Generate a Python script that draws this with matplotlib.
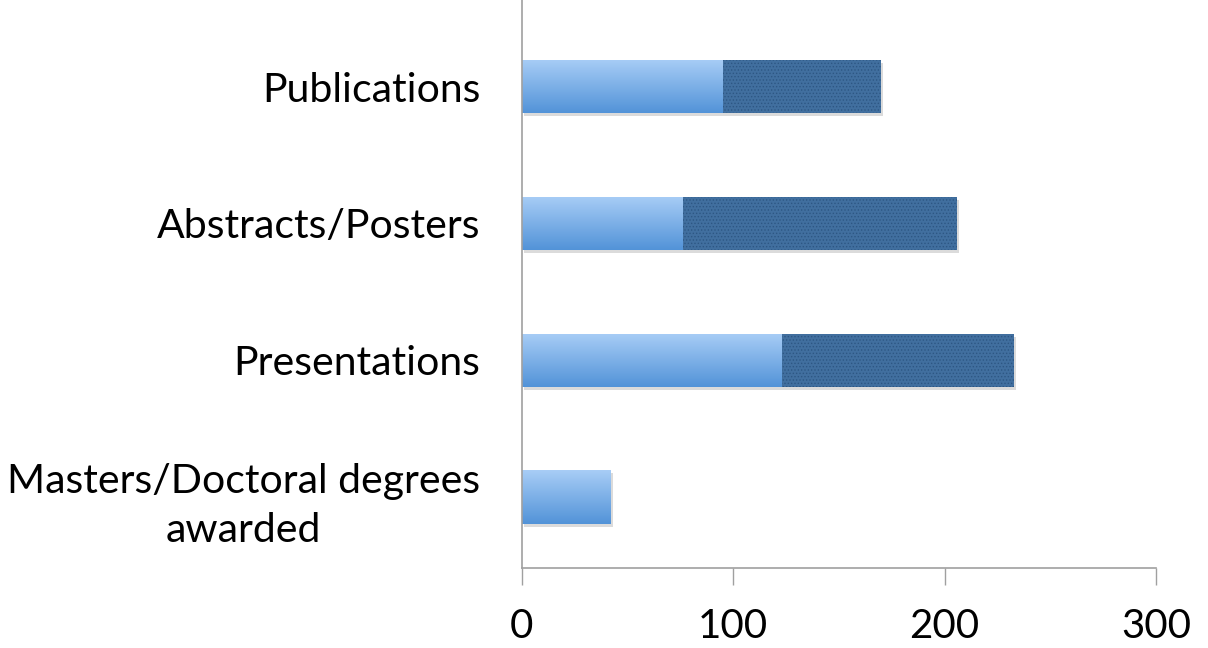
import matplotlib
matplotlib.use("Agg")
import matplotlib.pyplot as plt
import numpy as np
from matplotlib.colors import LinearSegmentedColormap
from matplotlib.patches import Rectangle
from matplotlib import transforms

categories = ["Masters/Doctoral degrees\nawarded", "Presentations", "Abstracts/Posters", "Publications"]
series_light = [42, 123, 76, 95]
series_dark = [0, 110, 130, 75]
xticks = [0, 100, 200, 300]

plt.rcParams['font.family'] = ['Lato', 'DejaVu Sans']
plt.rcParams['hatch.linewidth'] = 0.6

fig = plt.figure(figsize=(12.08, 6.48), dpi=100)
ax = fig.add_axes([0.432, 0.1235, 0.525, 0.8765])

y = np.arange(len(categories))
h = 0.39

cmap = LinearSegmentedColormap.from_list("g", ["#5293d8", "#a8cdf6"])
grad = np.linspace(0, 1, 256).reshape(-1, 1)

def shadow(x0, w, yc):
    off = transforms.offset_copy(ax.transData, fig=fig, x=2, y=-3, units='dots')
    r = Rectangle((x0, yc - h / 2), w, h, facecolor='#000000', alpha=0.14,
                  edgecolor='none', transform=off, zorder=1)
    ax.add_patch(r)

for yi, a, b in zip(y, series_light, series_dark):
    total = a + b
    if total > 0:
        shadow(0, total, yi)

bars_light = ax.barh(y, series_light, height=h, color='none', edgecolor='none', zorder=2)
for bar in bars_light:
    x0, y0 = bar.get_x(), bar.get_y()
    w, hh = bar.get_width(), bar.get_height()
    im = ax.imshow(grad, extent=[x0, x0 + w, y0, y0 + hh], cmap=cmap,
                   aspect='auto', origin='lower', zorder=2, interpolation='bicubic')
    im.set_clip_path(bar)

ax.barh(y, series_dark, left=series_light, height=h, color='#416f9f',
        edgecolor='#2d5784', hatch='.....', linewidth=0, zorder=3)

ax.set_xlim(0, 300)
ax.set_ylim(-0.52, 3.635)
ax.set_xticks(xticks)
ax.set_xticklabels([str(t) for t in xticks], fontsize=29)
ax.set_yticks(y)
ax.set_yticklabels(categories, fontsize=29.5)
for lbl in ax.get_yticklabels():
    lbl.set_multialignment('center')
    lbl.set_linespacing(1.4)

ax.tick_params(axis='y', length=0, pad=30)
ax.tick_params(axis='x', length=12, width=1, color='#a0a0a0', pad=17, direction='out')

for s in ['top', 'right']:
    ax.spines[s].set_visible(False)
for s in ['left', 'bottom']:
    ax.spines[s].set_color('#a0a0a0')
    ax.spines[s].set_linewidth(1.2)

fig.savefig("out.png", dpi=100)
